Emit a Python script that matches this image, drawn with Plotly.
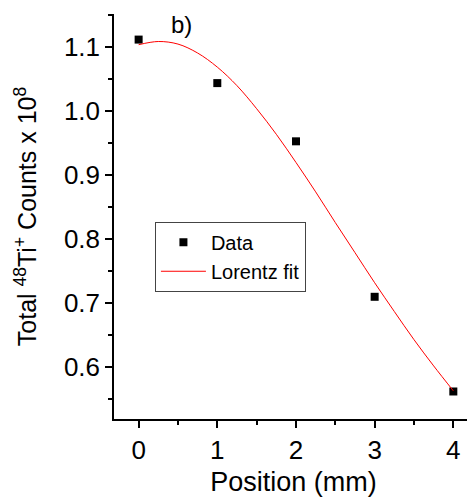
import plotly.graph_objects as go

# Data
positions = [0, 1, 2, 3, 4]
counts = [1.111, 1.043, 0.952, 0.709, 0.561]

# Lorentz fit curve
fit_x = [0, 0.25, 0.5, 0.75, 1.0, 1.25, 1.5, 1.75, 2.0, 2.25, 2.5, 2.75, 3.0, 3.25, 3.5, 3.75, 4.0]
fit_y = [1.103, 1.108, 1.104, 1.090, 1.068, 1.039, 1.003, 0.963, 0.919, 0.873, 0.825,
         0.778, 0.731, 0.686, 0.642, 0.601, 0.562]

x_ticks = [0, 1, 2, 3, 4]
y_ticks = [0.6, 0.7, 0.8, 0.9, 1.0, 1.1]
y_tick_text = ["0.6", "0.7", "0.8", "0.9", "1.0", "1.1"]

FONT = "Liberation Sans, Arial, sans-serif"

fig = go.Figure()
fig.add_trace(go.Scatter(
    x=positions, y=counts, mode="markers", name="Data",
    marker=dict(symbol="square", size=8, color="black"),
))
fig.add_trace(go.Scatter(
    x=fit_x, y=fit_y, mode="lines", name="Lorentz fit",
    line=dict(color="red", width=1, shape="spline"),
))

# page body has an 8px margin, so the figure is shrunk by 8px and margins shifted
fig.update_layout(
    width=467, height=491,
    margin=dict(l=106, r=2, t=6, b=80, autoexpand=False),
    plot_bgcolor="white", paper_bgcolor="white",
    font=dict(family=FONT, color="black", size=24),
    showlegend=True,
    legend=dict(
        x=0.114, y=0.487, xanchor="left", yanchor="top",
        bordercolor="#444", borderwidth=1, bgcolor="white",
        font=dict(size=20, family=FONT),
        tracegroupgap=0, itemwidth=45,
    ),
    annotations=[dict(
        text="b)", x=0.187, y=0.975, xref="paper", yref="paper",
        showarrow=False, font=dict(size=24, family=FONT),
        xanchor="center", yanchor="middle",
    )],
)

fig.update_xaxes(
    range=[-0.313, 4.25], tickvals=x_ticks, ticks="outside", ticklen=7,
    tickwidth=1.5, tickcolor="black", automargin=False,
    showline=True, linecolor="black", linewidth=1.5, showgrid=False, zeroline=False,
    minor=dict(dtick=0.5, tick0=0, ticks="outside", ticklen=4, tickwidth=1.5, tickcolor="black", showgrid=False),
    tickfont=dict(size=26),
    title=dict(text="Position (mm)", font=dict(size=27), standoff=8),
)
fig.update_yaxes(
    range=[0.518, 1.151], tickvals=y_ticks, ticktext=y_tick_text,
    ticks="outside", ticklen=7, tickwidth=1.5, tickcolor="black", automargin=False,
    showline=True, linecolor="black", linewidth=1.5, showgrid=False, zeroline=False,
    minor=dict(dtick=0.05, tick0=0.5, ticks="outside", ticklen=4, tickwidth=1.5, tickcolor="black", showgrid=False),
    tickfont=dict(size=26),
    title=dict(text="Total <sup>48</sup>Ti<sup>+</sup> Counts x 10<sup>8</sup>", font=dict(size=25), standoff=20),
)

fig.write_html("out.html")
